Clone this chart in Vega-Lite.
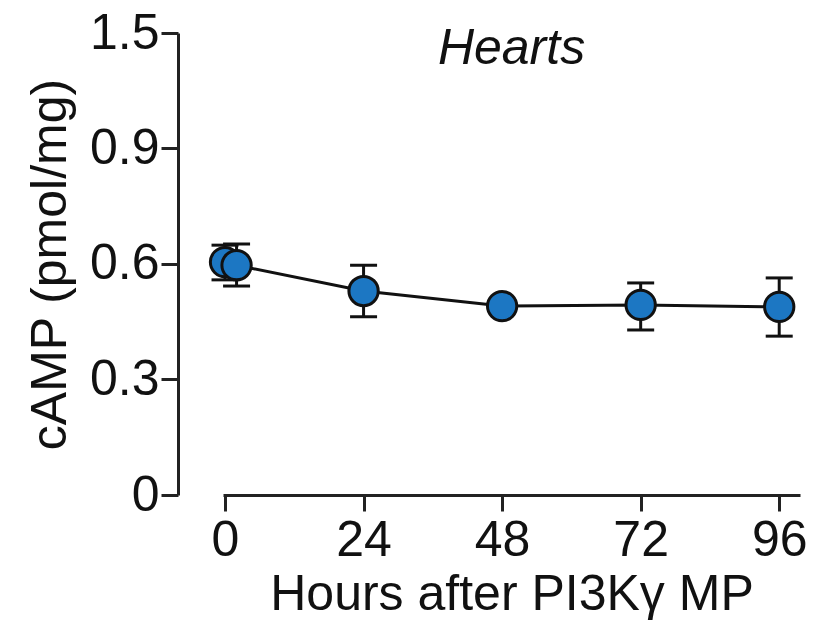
{
  "$schema": "https://vega.github.io/schema/vega-lite/v6.json",
  "width": 577,
  "height": 462,
  "autosize": {"type": "none"},
  "padding": {"left": 223, "top": 33, "right": 15, "bottom": 125},
  "background": "white",
  "config": {
    "view": {"stroke": null},
    "font": "Liberation Sans"
  },
  "title": {
    "text": "Hearts",
    "fontStyle": "italic",
    "fontWeight": "normal",
    "fontSize": 50,
    "font": "Liberation Sans",
    "color": "#111",
    "anchor": "middle",
    "frame": "group",
    "baseline": "alphabetic",
    "offset": 0,
    "dy": 106
  },
  "data": {
    "values": [
      {"hours": 0, "mean": 0.604, "lo": 0.558, "hi": 0.648},
      {"hours": 2, "mean": 0.596, "lo": 0.542, "hi": 0.651},
      {"hours": 24, "mean": 0.529, "lo": 0.462, "hi": 0.596},
      {"hours": 48, "mean": 0.49, "lo": 0.476, "hi": 0.504},
      {"hours": 72, "mean": 0.493, "lo": 0.428, "hi": 0.55},
      {"hours": 96, "mean": 0.488, "lo": 0.412, "hi": 0.563}
    ]
  },
  "encoding": {
    "x": {
      "field": "hours",
      "type": "quantitative",
      "scale": {"domain": [-0.35, 99.6], "nice": false, "zero": false},
      "axis": {
        "title": "Hours after PI3Kγ MP",
        "values": [0, 24, 48, 72, 96],
        "grid": false,
        "domainColor": "#222",
        "domainWidth": 3,
        "tickColor": "#222",
        "tickWidth": 3,
        "tickSize": 16,
        "labelFontSize": 50,
        "labelColor": "#111",
        "labelPadding": 4,
        "labelFont": "Liberation Sans",
        "titleFontSize": 50,
        "titleFontWeight": "normal",
        "titleColor": "#111",
        "titleFont": "Liberation Sans",
        "titlePadding": 4
      }
    }
  },
  "layer": [
    {
      "mark": {"type": "line", "color": "#111", "strokeWidth": 3},
      "encoding": {
        "y": {
          "field": "mean",
          "type": "quantitative",
          "scale": {"domain": [0, 0.9, 1.5], "range": [462, 115, 0], "nice": false, "zero": false},
          "axis": {
            "title": "cAMP (pmol/mg)",
            "values": [0, 0.3, 0.6, 0.9, 1.5],
            "labelExpr": "datum.value == 0 ? '0' : format(datum.value, '.1f')",
            "offset": 45,
            "grid": false,
            "domainColor": "#222",
            "domainWidth": 3,
            "tickColor": "#222",
            "tickWidth": 3,
            "tickSize": 17,
            "labelFontSize": 50,
            "labelColor": "#111",
            "labelPadding": 2,
            "labelFont": "Liberation Sans",
            "titleFontSize": 50,
            "titleFontWeight": "normal",
            "titleColor": "#111",
            "titleFont": "Liberation Sans",
            "titlePadding": 14
          }
        }
      }
    },
    {
      "mark": {"type": "rule", "color": "#111", "strokeWidth": 3},
      "encoding": {
        "y": {"field": "lo", "type": "quantitative"},
        "y2": {"field": "hi"}
      }
    },
    {
      "mark": {"type": "tick", "orient": "horizontal", "color": "#111", "opacity": 1, "thickness": 3, "size": 27},
      "encoding": {"y": {"field": "lo", "type": "quantitative"}}
    },
    {
      "mark": {"type": "tick", "orient": "horizontal", "color": "#111", "opacity": 1, "thickness": 3, "size": 27},
      "encoding": {"y": {"field": "hi", "type": "quantitative"}}
    },
    {
      "mark": {"type": "point", "filled": true, "fill": "#1c77c3", "stroke": "#111", "strokeWidth": 3, "opacity": 1, "size": 860},
      "encoding": {"y": {"field": "mean", "type": "quantitative"}}
    }
  ],
  "resolve": {"scale": {"y": "shared"}}
}
